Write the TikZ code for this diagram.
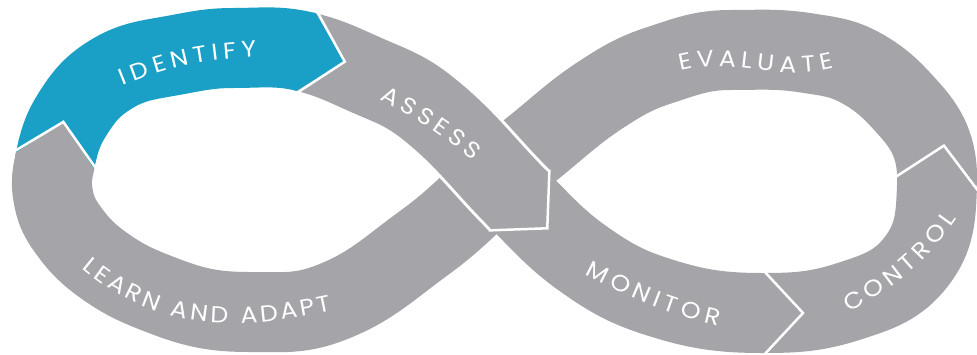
\documentclass[tikz,border=0pt]{standalone}
\usepackage{fontspec}
\setmainfont{Poppins}[FakeStretch=1.1]
\usetikzlibrary{calc, decorations.text}
\definecolor{bandgray}{RGB}{164,164,169}
\definecolor{bandblue}{RGB}{26,160,198}
\newcommand\stepfont{\fontsize{23}{23}\selectfont}
% tip of a band: #1 base, #2 angle, #3 colour
\newcommand\bandtip[3]{%
  \fill[#3] ($(#1)+(#2+90:40pt)+(#2:-3pt)$) -- ($(#1)+(#2+90:40pt)$) -- ($(#1)+(#2:40pt)$)
    -- ($(#1)+(#2-90:40pt)$) -- ($(#1)+(#2-90:40pt)+(#2:-3pt)$) -- cycle;
  \draw[white, line width=2.5pt] ($(#1)+(#2+90:43pt)$) -- ($(#1)+(#2:40pt)$) -- ($(#1)+(#2-90:43pt)$);
}

\begin{document}
\begin{tikzpicture}[x=1pt, y=-1pt,
    band/.style={line width=80pt, bandgray},
    bandtext/.style={decorate, decoration={text along path, text align=fit to path,
      raise=-8pt, text={|\color{white}\stepfont|#1}}}]
        \useasboundingbox (0,0) rectangle (977,354);

        \coordinate (L1) at (55,161);
        \coordinate (i1) at (72,115);
        \coordinate (i2) at (110,75);
        \coordinate (i3) at (170,56);
        \coordinate (i4) at (233,48);
        \coordinate (I2) at (306,52);
        \coordinate (a1) at (364,74);
        \coordinate (a2) at (425,106);
        \coordinate (A2) at (519,200);
        \coordinate (m1) at (585,260);
        \coordinate (m2) at (655,296);
        \coordinate (M2) at (763,313);
        \coordinate (c1) at (850,301);
        \coordinate (c2) at (916,262);
        \coordinate (C2) at (937,185);
        \coordinate (e1) at (910,110);
        \coordinate (e2) at (861,68);
        \coordinate (e3) at (807,53);
        \coordinate (e4) at (730,50);
        \coordinate (e5) at (660,65);
        \coordinate (e6) at (602,94);
        \coordinate (e7) at (528,152);
        \coordinate (l1) at (424,243);
        \coordinate (l2) at (327,304);
        \coordinate (l3) at (250,312);
        \coordinate (l4) at (164,296);
        \coordinate (l5) at (106,267);
        \coordinate (l6) at (66,227);
        \coordinate (l7) at (53,195);

        % evaluate, then learn and adapt (under the crossing)
        \draw[band] (C2) to[out=88,in=312] (e1) to[out=132,in=331] (e2)
          to[out=151,in=351] (e3) to[out=171,in=0] (e4) to[out=180,in=18] (e5)
          to[out=198,in=33] (e6) to[out=213,in=38] (e7) to[out=218,in=36] (l1)
          to[out=216,in=20] (l2) to[out=200,in=0] (l3) to[out=180,in=339] (l4)
          to[out=159,in=325] (l5) to[out=145,in=305] (l6) to[out=125,in=280] (l7)
          to[out=100,in=258] (L1);
        % monitor and control
        \draw[band] (A2) to[out=-45,in=145] (m1) to[out=-35,in=162] (m2)
          to[out=-18,in=180] (M2) to[out=0,in=198] (c1) to[out=18,in=232] (c2)
          to[out=52,in=268] (C2);
        % identify
        \draw[band, bandblue] (L1) to[out=78,in=238] (i1) to[out=58,in=212] (i2)
          to[out=32,in=190] (i3) to[out=10,in=180] (i4) to[out=0,in=166] (I2);
        % assess, on top
        \draw[line width=3pt, white, double=bandgray, double distance=80pt]
          (I2) to[out=-14,in=156] (a1) to[out=-24,in=142] (a2) to[out=-38,in=135] (A2);

        \foreach \p/\a/\c in {L1/78/bandgray, I2/-14/bandblue, A2/-45/bandgray,
                              M2/0/bandgray, C2/80/bandgray} {
          \bandtip{\p}{\a}{\c}
        }

        \path[bandtext=IDENTIFY] (120,78) to[out=22,in=183] (256,49);
        \path[bandtext=ASSESS] (383,92) to[out=-28,in=140] (478,155);
        \path[bandtext=MONITOR] (588,267) to[out=-27,in=167] (720,318);
        \path[bandtext=CONTROL] (845,306) to[out=30,in=235] (950,214);
        \path[bandtext=EVALUATE] (679,63) to[out=14,in=194] (833,60);
        \path[bandtext=LEARN AND ADAPT] (87,262) to[out=-40,in=192] (330,303);
      \end{tikzpicture}
\end{document}
